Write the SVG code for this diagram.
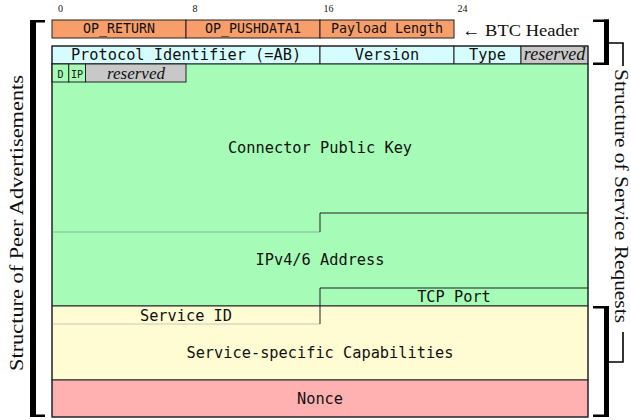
<svg xmlns="http://www.w3.org/2000/svg" width="631" height="420" viewBox="0 0 631 420">
<style>
.cell{stroke:#222;stroke-width:1}
.or{fill:#F79E6B}.cy{fill:#D6FDFD}.gr{fill:#A6FCB6}.gy{fill:#C8C8C8}.ye{fill:#FFFBD2}.rd{fill:#FFB1B1}
.m{font-family:"DejaVu Sans Mono",monospace;font-size:15.3px;fill:#111;text-anchor:middle}
.mh{font-family:"DejaVu Sans Mono",monospace;font-size:13.3px;fill:#111;text-anchor:middle}
.ms{font-family:"DejaVu Sans Mono",monospace;font-size:10px;fill:#111;text-anchor:middle}
.it{font-family:"Liberation Serif",serif;font-style:italic;fill:#111;text-anchor:middle}
.s{font-family:"Liberation Serif",serif;fill:#111}
.bit{font-family:"Liberation Serif",serif;font-size:10px;fill:#111;text-anchor:middle}
.ln{stroke:#222;stroke-width:1;fill:none}
.br{fill:#000}
.tk{stroke:#000;stroke-width:1.6;fill:none}
</style>
<g id="bits">
<text class="bit" x="60.5" y="11.5">0</text>
<text class="bit" x="195" y="11.5">8</text>
<text class="bit" x="328.5" y="11.5">16</text>
<text class="bit" x="462.5" y="11.5">24</text>
</g>
<g id="btc-header">
<rect class="cell or" x="52" y="20" width="134" height="18"/>
<rect class="cell or" x="186" y="20" width="134" height="18"/>
<rect class="cell or" x="320" y="20" width="134" height="18"/>
<text class="mh" x="119" y="33">OP_RETURN</text>
<text class="mh" x="253" y="33">OP_PUSHDATA1</text>
<text class="mh" x="387" y="33">Payload Length</text>
<text class="s" x="462" y="35.5" font-size="17.5" textLength="117" lengthAdjust="spacingAndGlyphs">← BTC Header</text>
</g>
<g id="protocol-row">
<rect class="cell cy" x="52" y="46" width="268" height="18"/>
<rect class="cell cy" x="320" y="46" width="134" height="18"/>
<rect class="cell cy" x="454" y="46" width="67" height="18"/>
<rect class="cell gy" x="521" y="46" width="67" height="18"/>
<text class="m" x="186" y="60">Protocol Identifier (=AB)</text>
<text class="m" x="387" y="60">Version</text>
<text class="m" x="487.5" y="60">Type</text>
<text class="it" x="554.5" y="60" font-size="18">reserved</text>
</g>
<g id="peer-fields">
<rect class="cell gr" x="52" y="64" width="536" height="242"/>
<rect class="cell gr" x="52" y="64" width="16.75" height="18"/>
<rect class="cell gr" x="68.75" y="64" width="16.75" height="18"/>
<rect class="cell gy" x="85.5" y="64" width="100.5" height="18"/>
<text class="ms" x="60.4" y="78">D</text>
<text class="ms" x="77.1" y="78">IP</text>
<text class="it" x="136" y="78.5" font-size="17">reserved</text>
<text class="m" x="320" y="153">Connector Public Key</text>
<line x1="52" y1="232" x2="320" y2="232" stroke="#7DBE8C" stroke-width="1"/>
<text class="m" x="320" y="265">IPv4/6 Address</text>
<text class="m" x="454" y="301.5">TCP Port</text>
</g>
<g id="service-fields">
<rect class="cell ye" x="52" y="306" width="536" height="74"/>
<line x1="52" y1="324" x2="320" y2="324" stroke="#C8C8B8" stroke-width="1"/>
<text class="m" x="186" y="321">Service ID</text>
<text class="m" x="320" y="358">Service-specific Capabilities</text>
</g>
<g id="nonce">
<rect class="cell rd" x="52" y="380" width="536" height="37"/>
<text class="m" x="320" y="404">Nonce</text>
</g>
<g id="connectors">
<polyline class="ln" points="320,232 320,213 588,213"/>
<polyline class="ln" points="588,288 320,288 320,324"/>
<rect x="52" y="46" width="536" height="371" fill="none" stroke="#222" stroke-width="1"/>
</g>
<g id="left-bracket">
<rect class="br" x="30" y="20" width="6" height="397"/>
<rect class="br" x="30" y="20" width="15" height="2.5"/>
<rect class="br" x="30" y="414.5" width="15" height="2.5"/>
<text class="s" font-size="18.5" text-anchor="middle" textLength="296" lengthAdjust="spacingAndGlyphs" transform="translate(23,223) rotate(-90)">Structure of Peer Advertisements</text>
</g>
<g id="right-brackets">
<rect class="br" x="604" y="19.5" width="5" height="45.5"/>
<rect class="br" x="593" y="19.5" width="16" height="2.5"/>
<rect class="br" x="593" y="62.5" width="16" height="2.5"/>
<rect class="br" x="604" y="306" width="5" height="111"/>
<rect class="br" x="593" y="306" width="16" height="2.5"/>
<rect class="br" x="593" y="414.5" width="16" height="2.5"/>
<polyline class="tk" points="609,43 623,43 623,66"/>
<polyline class="tk" points="609,362 623,362 623,332"/>
<text class="s" font-size="18" text-anchor="middle" textLength="254" lengthAdjust="spacingAndGlyphs" transform="translate(615,196) rotate(90)">Structure of Service Requests</text>
</g>
</svg>
